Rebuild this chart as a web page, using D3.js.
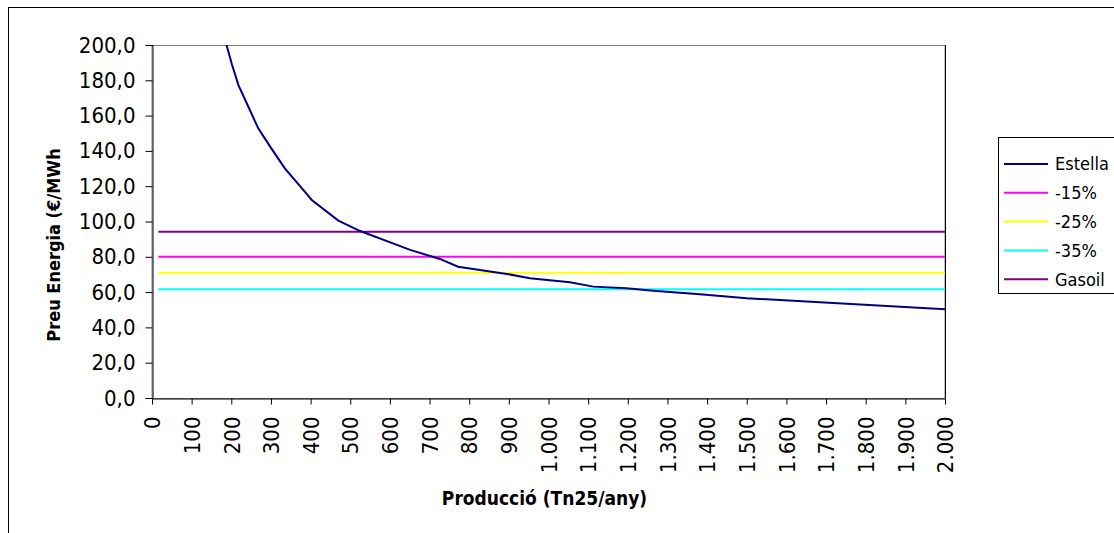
<!DOCTYPE html>
<html>
<head>
<meta charset="utf-8">
<script src="https://cdn.jsdelivr.net/npm/d3@7"></script>
<style>
  body { margin: 0; background: #fff; }
  svg { display: block; }
  text { font-family: "DejaVu Sans Condensed", "DejaVu Sans", sans-serif; fill: #000; }
</style>
</head>
<body>
<div id="chart"></div>
<script>
// data
const estellaX = [188, 202, 218, 243, 268, 298, 335, 382, 403, 470, 525, 651, 726, 772, 844, 895, 953, 1054, 1113, 1197, 1264, 1382, 1500, 2000];
const estellaY = [200, 188.7, 177.3, 165, 152.8, 142.4, 130.1, 117.8, 112.2, 100.5, 94.6, 83.9, 78.8, 74.4, 72.0, 70.3, 67.8, 65.6, 63.1, 62.2, 60.8, 58.8, 56.5, 50.3];

const flatNames = ["-15%", "-25%", "-35%", "Gasoil"];
const flatValues = [80.0, 71.0, 61.6, 94.2];
const flatRange = [16, 2000];

const legendNames = ["Estella", "-15%", "-25%", "-35%", "Gasoil"];
const colors = {"Estella": "#000080", "-15%": "#ff00ff", "-25%": "#ffff00", "-35%": "#00ffff", "Gasoil": "#800080"};

const xTicks = d3.range(0, 2001, 100);
const yTicks = d3.range(0, 201, 20);

const width = 1114, height = 533;
const plot = {left: 152, right: 945, top: 45, bottom: 398};

const svg = d3.select("#chart").append("svg")
  .attr("width", width)
  .attr("height", height);

// outer chart border
svg.append("rect")
  .attr("x", 8.5).attr("y", 7.5)
  .attr("width", 1130).attr("height", 560)
  .attr("fill", "none")
  .attr("stroke", "#000");

const x = d3.scaleLinear().domain([0, 2000]).range([plot.left, plot.right]);
const y = d3.scaleLinear().domain([0, 200]).range([plot.bottom, plot.top]);

const fmtY = d => d3.format(".1f")(d).replace(".", ",");
const fmtX = d => d >= 1000 ? d3.format(",")(d).replace(",", ".") : String(d);

// plot area border
svg.append("rect")
  .attr("x", plot.left).attr("y", plot.top + 0.5)
  .attr("width", plot.right - plot.left).attr("height", plot.bottom - plot.top)
  .attr("fill", "none")
  .attr("stroke", "#808080");

svg.append("line")
  .attr("x1", plot.right + 0.5).attr("x2", plot.right + 0.5)
  .attr("y1", plot.top).attr("y2", plot.bottom)
  .attr("stroke", "#000");

// Eixo Y
const yAxis = svg.append("g")
  .attr("transform", `translate(${plot.left + 0.5},0)`)
  .call(d3.axisLeft(y).tickValues(yTicks).tickFormat(fmtY).tickSize(7).tickPadding(10));
yAxis.select(".domain").attr("stroke", "#000");
yAxis.selectAll(".tick line").attr("stroke", "#000");
yAxis.selectAll("text").attr("font-size", 22).attr("font-family", null);

// Eixo X
const xAxis = svg.append("g")
  .attr("transform", `translate(0,${plot.bottom + 0.5})`)
  .call(d3.axisBottom(x).tickValues(xTicks).tickFormat(fmtX).tickSize(6).tickSizeOuter(0));
xAxis.select(".domain").attr("stroke", "#000");
xAxis.selectAll(".tick line").attr("stroke", "#000");
xAxis.selectAll("text")
  .attr("font-size", 22)
  .attr("font-family", null)
  .attr("transform", "rotate(-90)")
  .attr("text-anchor", "end")
  .attr("x", -18)
  .attr("y", 0)
  .attr("dy", "0.35em");

// titles
svg.append("text")
  .attr("x", (plot.left + plot.right) / 2 - 4)
  .attr("y", 505)
  .attr("text-anchor", "middle")
  .attr("font-family", "DejaVu Sans")
  .attr("font-weight", "bold")
  .attr("font-size", 19)
  .text("Producció (Tn25/any)");

svg.append("text")
  .attr("transform", "translate(60,245) rotate(-90)")
  .attr("text-anchor", "middle")
  .attr("font-family", "DejaVu Sans")
  .attr("font-weight", "bold")
  .attr("font-size", 18)
  .text("Preu Energia (€/MWh");

// lines
const line = d3.line().x(d => x(d[0])).y(d => y(d[1]));

flatNames.forEach((name, i) => {
  svg.append("path")
    .datum(flatRange.map(v => [v, flatValues[i]]))
    .attr("d", line)
    .attr("fill", "none")
    .attr("stroke", colors[name])
    .attr("stroke-width", 2);
});

svg.append("path")
  .datum(estellaX.map((v, i) => [v, estellaY[i]]))
  .attr("d", line)
  .attr("fill", "none")
  .attr("stroke", colors["Estella"])
  .attr("stroke-width", 2);

// legend
const lg = svg.append("g").attr("transform", "translate(998,137)");
lg.append("rect")
  .attr("x", 0.5).attr("y", 0.5)
  .attr("width", 140).attr("height", 156)
  .attr("fill", "#fff")
  .attr("stroke", "#000");

legendNames.forEach((name, i) => {
  const cy = 27 + i * 28.8;
  lg.append("line")
    .attr("x1", 6).attr("x2", 50)
    .attr("y1", cy).attr("y2", cy)
    .attr("stroke", colors[name])
    .attr("stroke-width", 2);
  lg.append("text")
    .attr("x", 57).attr("y", cy)
    .attr("dy", "0.35em")
    .attr("font-size", 18)
    .text(name);
});
</script>
</body>
</html>
